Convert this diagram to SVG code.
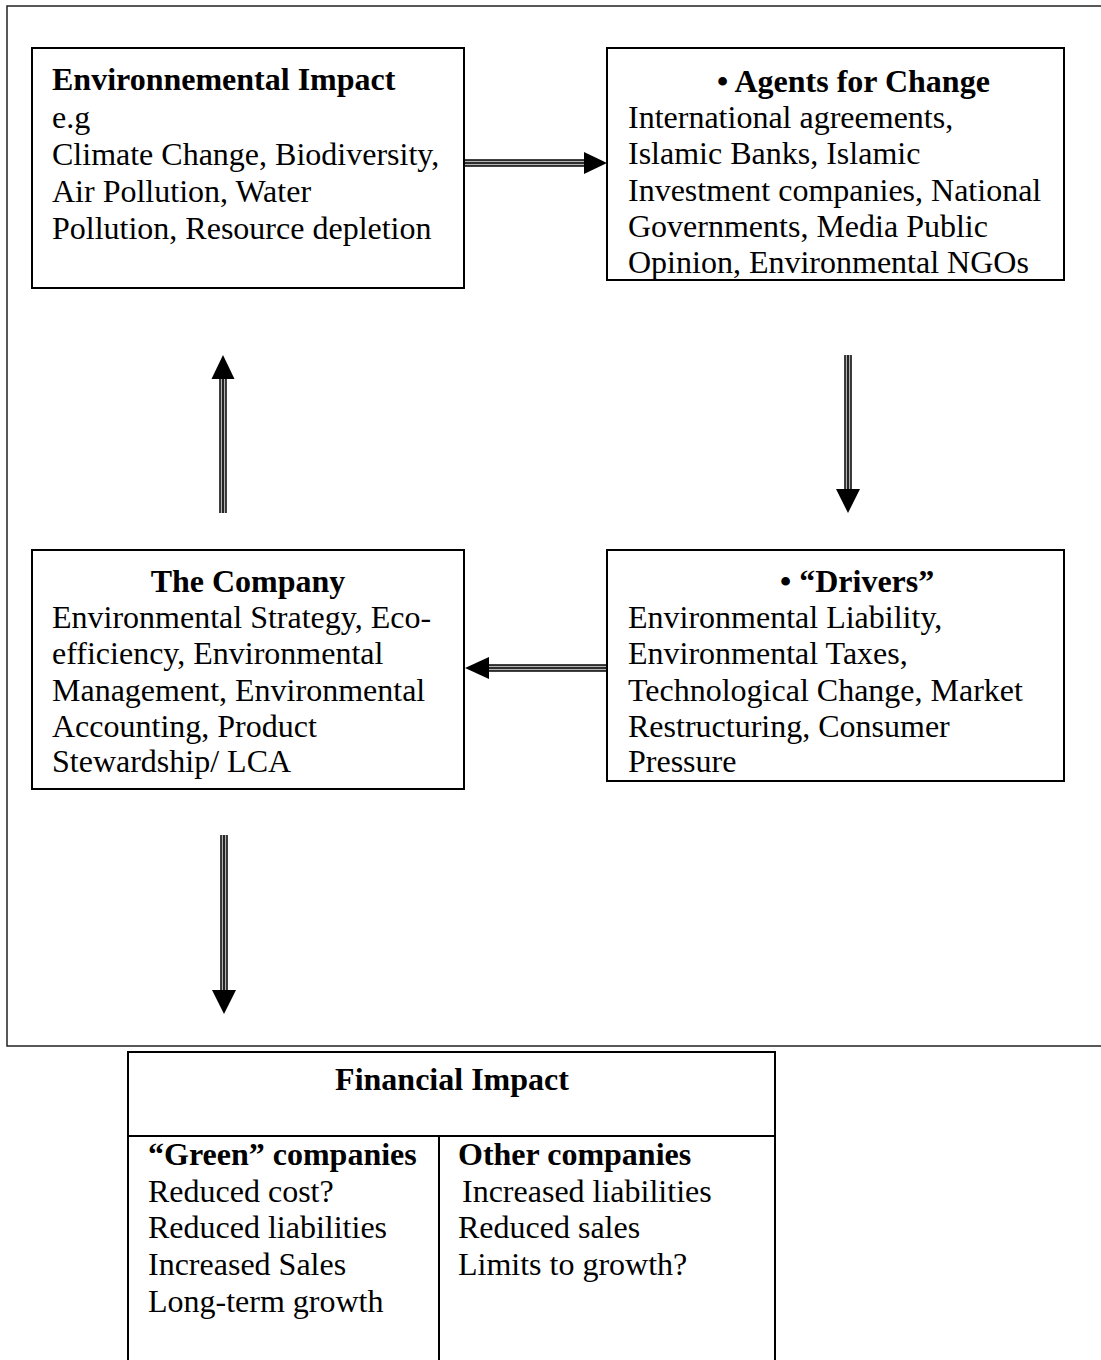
<svg xmlns="http://www.w3.org/2000/svg" width="1101" height="1360" viewBox="0 0 1101 1360">
<style>
text { font-family: "Liberation Serif", "Times New Roman", serif; font-size: 32px; fill: #000; }
.b { font-weight: bold; }
.mid { text-anchor: middle; }
.box { fill: #fff; stroke: #000; stroke-width: 2; }
.frame { fill: none; stroke: #222; stroke-width: 1.5; }
.s1 { stroke: #000; stroke-width: 7.5; fill: none; }
.s2 { stroke: #b4b4b4; stroke-width: 4.6; fill: none; }
.s3 { stroke: #000; stroke-width: 1.6; fill: none; }
.head { fill: #000; }
.line { stroke: #000; stroke-width: 2; fill: none; }
</style>
<rect x="0" y="0" width="1101" height="1360" fill="#fff"/>
<rect class="frame" x="7" y="6" width="1110" height="1040"/>

<g id="connectors">
  <g id="arrow-env-agents">
    <line class="s1" x1="464" y1="163" x2="585" y2="163"/>
    <line class="s2" x1="464" y1="163" x2="585" y2="163"/>
    <line class="s3" x1="464" y1="163" x2="585" y2="163"/>
    <polygon class="head" points="584,152 607,163 584,174"/>
  </g>
  <g id="arrow-agents-drivers">
    <line class="s1" x1="848" y1="355" x2="848" y2="490"/>
    <line class="s2" x1="848" y1="355" x2="848" y2="490"/>
    <line class="s3" x1="848" y1="355" x2="848" y2="490"/>
    <polygon class="head" points="836,489 860,489 848,513"/>
  </g>
  <g id="arrow-drivers-company">
    <line class="s1" x1="607" y1="668" x2="488" y2="668"/>
    <line class="s2" x1="607" y1="668" x2="488" y2="668"/>
    <line class="s3" x1="607" y1="668" x2="488" y2="668"/>
    <polygon class="head" points="489,657 465,668 489,679"/>
  </g>
  <g id="arrow-company-env">
    <line class="s1" x1="223" y1="513" x2="223" y2="378"/>
    <line class="s2" x1="223" y1="513" x2="223" y2="378"/>
    <line class="s3" x1="223" y1="513" x2="223" y2="378"/>
    <polygon class="head" points="211.5,379 234.5,379 223,355"/>
  </g>
  <g id="arrow-company-financial">
    <line class="s1" x1="224" y1="835" x2="224" y2="991"/>
    <line class="s2" x1="224" y1="835" x2="224" y2="991"/>
    <line class="s3" x1="224" y1="835" x2="224" y2="991"/>
    <polygon class="head" points="212,990 236,990 224,1014"/>
  </g>
</g>

<g id="node-environmental-impact">
  <rect class="box" x="32" y="48" width="432" height="240"/>
  <text class="b" x="52" y="90">Environnemental Impact</text>
  <text x="52" y="128">e.g</text>
  <text x="52" y="165">Climate Change, Biodiversity,</text>
  <text x="52" y="202">Air Pollution, Water</text>
  <text x="52" y="239">Pollution, Resource depletion</text>
</g>

<g id="node-agents">
  <rect class="box" x="607" y="48" width="457" height="232"/>
  <text class="b" x="717" y="92">• Agents for Change</text>
  <text x="628" y="128">International agreements,</text>
  <text x="628" y="164">Islamic Banks, Islamic</text>
  <text x="628" y="201">Investment companies, National</text>
  <text x="628" y="237">Governments, Media Public</text>
  <text x="628" y="273">Opinion, Environmental NGOs</text>
</g>

<g id="node-company">
  <rect class="box" x="32" y="550" width="432" height="239"/>
  <text class="b mid" x="248" y="592">The Company</text>
  <text x="52" y="628">Environmental Strategy, Eco-</text>
  <text x="52" y="664">efficiency, Environmental</text>
  <text x="52" y="701">Management, Environmental</text>
  <text x="52" y="737">Accounting, Product</text>
  <text x="52" y="772">Stewardship/ LCA</text>
</g>

<g id="node-drivers">
  <rect class="box" x="607" y="550" width="457" height="231"/>
  <text class="b" x="780" y="592">• “Drivers”</text>
  <text x="628" y="628">Environmental Liability,</text>
  <text x="628" y="664">Environmental Taxes,</text>
  <text x="628" y="701">Technological Change, Market</text>
  <text x="628" y="737">Restructuring, Consumer</text>
  <text x="628" y="772">Pressure</text>
</g>

<g id="node-financial">
  <rect class="box" x="128" y="1052" width="647" height="330"/>
  <line class="line" x1="128" y1="1136" x2="775" y2="1136"/>
  <line class="line" x1="439" y1="1136" x2="439" y2="1382"/>
  <text class="b mid" x="452" y="1090">Financial Impact</text>
  <text class="b" x="148" y="1165">“Green” companies</text>
  <text x="148" y="1202">Reduced cost?</text>
  <text x="148" y="1238">Reduced liabilities</text>
  <text x="148" y="1275">Increased Sales</text>
  <text x="148" y="1312">Long-term growth</text>
  <text class="b" x="458" y="1165">Other companies</text>
  <text x="462" y="1202">Increased liabilities</text>
  <text x="458" y="1238">Reduced sales</text>
  <text x="458" y="1275">Limits to growth?</text>
</g>
</svg>
